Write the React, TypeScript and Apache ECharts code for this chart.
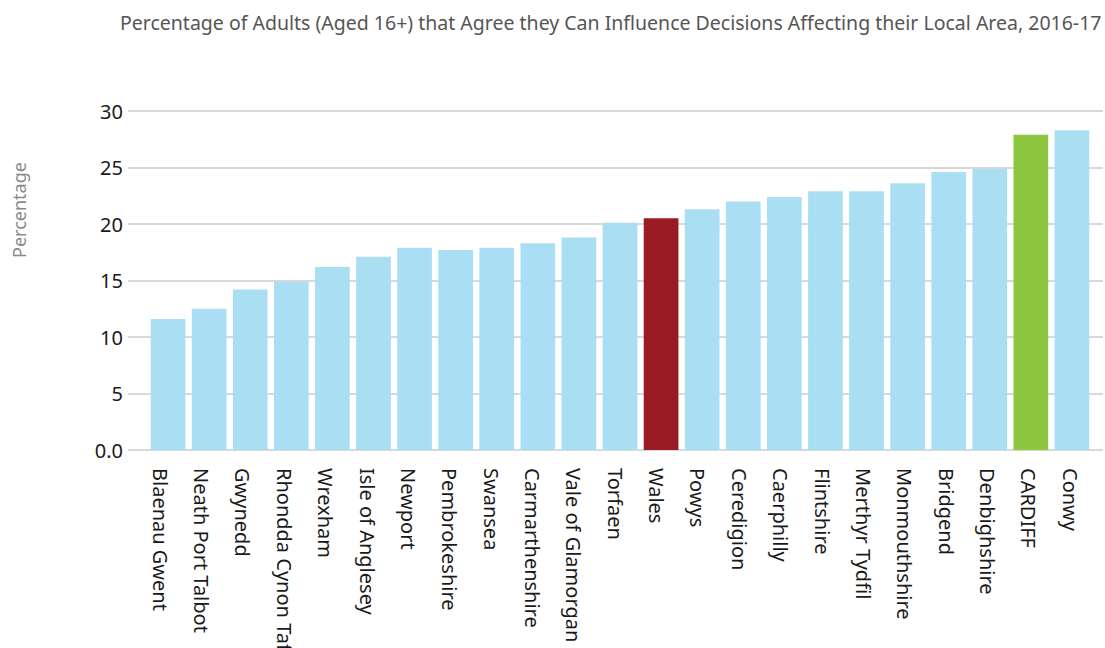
import React, { useEffect, useRef } from "react";
import * as echarts from "echarts";

const titleText =
  "Percentage of Adults (Aged 16+) that Agree they Can Influence Decisions Affecting their Local Area, 2016-17";
const yAxisTitle = "Percentage";

const categories = [
  "Blaenau Gwent",
  "Neath Port Talbot",
  "Gwynedd",
  "Rhondda Cynon Taf",
  "Wrexham",
  "Isle of Anglesey",
  "Newport",
  "Pembrokeshire",
  "Swansea",
  "Carmarthenshire",
  "Vale of Glamorgan",
  "Torfaen",
  "Wales",
  "Powys",
  "Ceredigion",
  "Caerphilly",
  "Flintshire",
  "Merthyr Tydfil",
  "Monmouthshire",
  "Bridgend",
  "Denbighshire",
  "CARDIFF",
  "Conwy",
];

const values = [
  11.6, 12.5, 14.2, 14.9, 16.2, 17.1, 17.9, 17.7, 17.9, 18.3, 18.8, 20.1, 20.5,
  21.3, 22.0, 22.4, 22.9, 22.9, 23.6, 24.6, 24.9, 27.9, 28.3,
];

const yTicks = [0, 5, 10, 15, 20, 25, 30];

const baseColor = "#aadff3";
const highlightColors: Record<string, string> = {
  Wales: "#9b1b24",
  CARDIFF: "#8dc63f",
};

const FONT = "'Noto Sans', sans-serif";

export default function App() {
  const ref = useRef<HTMLDivElement>(null);

  useEffect(() => {
    document.body.style.margin = "0";
    if (!ref.current) return;
    const chart = echarts.init(ref.current, undefined, { renderer: "svg" });
    const yMin = yTicks[0];
    const yMax = yTicks[yTicks.length - 1];
    const yInterval = yTicks[1] - yTicks[0];

    const gridBase = {
      top: 111,
      height: 339,
      containLabel: false,
      outerBoundsMode: "none",
    };

    chart.setOption({
      animation: false,
      backgroundColor: "#ffffff",
      title: {
        text: titleText,
        left: 115,
        top: 7,
        textStyle: {
          fontFamily: FONT,
          fontSize: 19.5,
          fontWeight: "normal",
          color: "#555555",
        },
      },
      graphic: [
        {
          type: "text",
          x: 19,
          y: 210,
          rotation: Math.PI / 2,
          style: {
            text: yAxisTitle,
            fontFamily: FONT,
            fontSize: 18,
            fill: "#8a8a8a",
            textAlign: "center",
            textVerticalAlign: "middle",
          },
        },
      ],
      grid: [
        // gridlines + value labels
        { ...gridBase, left: 128, right: 2 },
        // bars
        { ...gridBase, left: 147.5, right: 12.5 },
        // category labels
        { ...gridBase, left: 139.5, right: 14 },
      ],
      xAxis: [
        { type: "value", gridIndex: 0, show: false, min: 0, max: 1 },
        {
          type: "category",
          gridIndex: 1,
          data: categories,
          axisLine: { show: false },
          axisTick: { show: false },
          axisLabel: { show: false },
        },
        {
          type: "category",
          gridIndex: 2,
          data: categories,
          axisLine: { show: false },
          axisTick: { show: false },
          axisLabel: {
            rotate: -90,
            margin: 18,
            interval: 0,
            fontFamily: FONT,
            fontSize: 20,
            color: "#1a1a1a",
          },
        },
      ],
      yAxis: [
        {
          type: "value",
          gridIndex: 0,
          min: yMin,
          max: yMax,
          interval: yInterval,
          axisLine: { show: false },
          axisTick: { show: false },
          splitLine: { lineStyle: { color: "#cccccc", width: 1.5 } },
          axisLabel: {
            margin: 5,
            fontFamily: FONT,
            fontSize: 20,
            color: "#1a1a1a",
            formatter: (v: number) => (v === 0 ? "0.0" : String(v)),
          },
        },
        {
          type: "value",
          gridIndex: 1,
          min: yMin,
          max: yMax,
          interval: yInterval,
          show: false,
          splitLine: { show: false },
        },
        {
          type: "value",
          gridIndex: 2,
          min: yMin,
          max: yMax,
          interval: yInterval,
          show: false,
          splitLine: { show: false },
        },
      ],
      series: [
        {
          type: "bar",
          xAxisIndex: 1,
          yAxisIndex: 1,
          barCategoryGap: "15.5%",
          data: categories.map((c, i) => ({
            value: values[i],
            itemStyle: { color: highlightColors[c] ?? baseColor },
          })),
        },
      ],
    });

    return () => chart.dispose();
  }, []);

  return (
    <div
      ref={ref}
      style={{ position: "absolute", left: 0, top: 0, width: 1105, height: 648 }}
    />
  );
}
